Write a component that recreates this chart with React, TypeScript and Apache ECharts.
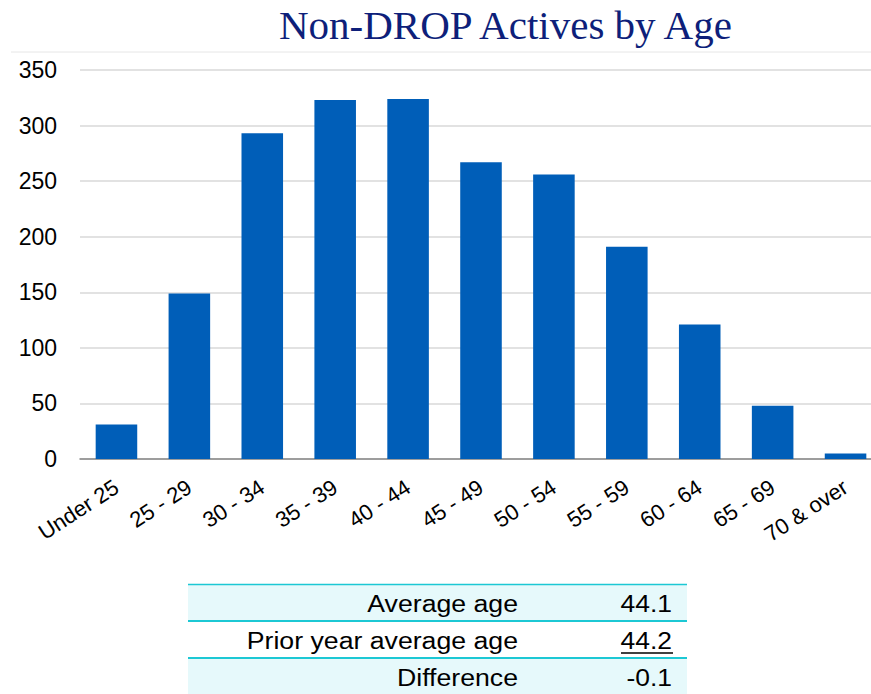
import React, { useEffect, useRef } from "react";
import * as echarts from "echarts";

const categories = ["Under 25", "25 - 29", "30 - 34", "35 - 39", "40 - 44", "45 - 49", "50 - 54", "55 - 59", "60 - 64", "65 - 69", "70 & over"];
const actives = [31, 149, 293, 323, 324, 267, 256, 191, 121, 48, 5];
const tableLabels = ["Average age", "Prior year average age", "Difference"];
const tableValues = ["44.1", "44.2", "-0.1"];

export default function App() {
  const ref = useRef<HTMLDivElement>(null);
  useEffect(() => {
    if (!ref.current) return;
    const chart = echarts.init(ref.current, null, { renderer: "svg" });
    const tableLeft = 188;
    const tableRight = 687;
    const rowTops = [584, 621, 658];
    const rowH = 37;
    const graphics: any[] = [
      { type: "line", shape: { x1: 11, y1: 52, x2: 882, y2: 52 }, style: { stroke: "#E6E6E6", lineWidth: 1 } },
    ];
    tableLabels.forEach((lab, i) => {
      const top = rowTops[i];
      graphics.push({
        type: "rect",
        shape: { x: tableLeft, y: top, width: tableRight - tableLeft, height: rowH },
        style: { fill: i === 1 ? "#FFFFFF" : "#E6F9FB" },
      });
      graphics.push({
        type: "text",
        x: 518,
        y: top + 20,
        scaleX: 1.16,
        style: { text: lab, fill: "#000", font: "23px 'Liberation Sans', Arial, sans-serif", textAlign: "right", textVerticalAlign: "middle" },
      });
      graphics.push({
        type: "text",
        x: 672,
        y: top + 20,
        scaleX: 1.15,
        style: { text: tableValues[i], fill: "#000", font: "23px 'Liberation Sans', Arial, sans-serif", textAlign: "right", textVerticalAlign: "middle" },
      });
    });
    graphics.push({ type: "line", shape: { x1: 621, y1: 653, x2: 673, y2: 653 }, style: { stroke: "#000", lineWidth: 1.5 } });
    graphics.push({ type: "line", shape: { x1: tableLeft, y1: 584.5, x2: tableRight, y2: 584.5 }, style: { stroke: "#1CC8D4", lineWidth: 1.5 } });
    graphics.push({ type: "line", shape: { x1: tableLeft, y1: 621, x2: tableRight, y2: 621 }, style: { stroke: "#1CC8D4", lineWidth: 2 } });
    graphics.push({ type: "line", shape: { x1: tableLeft, y1: 658, x2: tableRight, y2: 658 }, style: { stroke: "#1CC8D4", lineWidth: 2 } });

    chart.setOption({
      animation: false,
      title: {
        text: "Non-DROP Actives by Age",
        left: 274,
        top: -1,
        textStyle: { fontFamily: "'Liberation Serif', 'DejaVu Serif', serif", fontSize: 41, fontWeight: "normal", color: "#0E1F7A" },
      },
      grid: { left: 80, top: 70, width: 802, bottom: 235, containLabel: false },
      xAxis: {
        type: "category",
        data: categories,
        axisLine: { lineStyle: { color: "#868686", width: 1.5 } },
        axisTick: { show: false },
        axisLabel: { interval: 0, rotate: 33, fontSize: 22, color: "#000", fontFamily: "'Liberation Sans', Arial, sans-serif", margin: 26 },
      },
      yAxis: {
        type: "value",
        min: 0,
        max: 350,
        interval: 50,
        axisLine: { show: false },
        axisTick: { show: false },
        splitLine: { lineStyle: { color: "#D9D9D9", width: 1.5 } },
        axisLabel: { fontSize: 23, color: "#000", fontFamily: "'Liberation Sans', Arial, sans-serif", margin: 23 },
      },
      series: [
        {
          type: "bar",
          data: actives,
          barWidth: "57%",
          itemStyle: { color: "#005EB8" },
        },
      ],
      graphic: graphics,
    });
    return () => chart.dispose();
  }, []);
  return (
    <div style={{ position: "absolute", left: 0, top: 0, width: 871, height: 694, overflow: "hidden" }}>
      <div ref={ref} style={{ width: 882, height: 694 }} />
    </div>
  );
}
